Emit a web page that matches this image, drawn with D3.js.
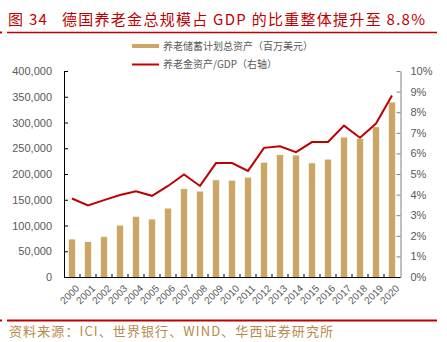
<!DOCTYPE html>
<html>
<head>
<meta charset="utf-8">
<script src="https://cdn.jsdelivr.net/npm/d3@7"></script>
<style>
  body { margin: 0; background: #fff; }
  text { font-family: "Liberation Sans", Arial, sans-serif; }
  .cjk { font-family: "Noto Sans CJK SC", sans-serif; }
</style>
</head>
<body>
<div id="chart"></div>
<script>
// data
var years = ["2000","2001","2002","2003","2004","2005","2006","2007","2008","2009","2010",
             "2011","2012","2013","2014","2015","2016","2017","2018","2019","2020"];
var assets = [73000, 68000, 78000, 100000, 117000, 112000, 133000, 171000, 166000, 188000, 187000,
              193000, 222000, 237000, 236000, 221000, 228000, 271000, 268000, 291000, 339000];
var gdpShare = [3.81, 3.47, 3.73, 3.98, 4.16, 3.94, 4.42, 4.98, 4.42, 5.53, 5.53,
                5.15, 6.27, 6.35, 6.06, 6.55, 6.55, 7.35, 6.76, 7.45, 8.81];
var leftTicks = [0, 50000, 100000, 150000, 200000, 250000, 300000, 350000, 400000];
var rightTicks = [0, 1, 2, 3, 4, 5, 6, 7, 8, 9, 10];

var W = 447, H = 342;
var red = "#c00000", tan = "#cca664", grey = "#595959";

var svg = d3.select("#chart").append("svg")
    .attr("width", W)
    .attr("height", H);

// title + rules
svg.append("text")
    .attr("class", "cjk")
    .attr("x", 8).attr("y", 25)
    .attr("fill", red)
    .attr("font-size", 15)
    .style("white-space", "pre")
    .attr("textLength", 417)
    .text("图 34   德国养老金总规模占 GDP 的比重整体提升至 8.8%");
svg.append("rect").attr("x", 0).attr("y", 31.5).attr("width", 2).attr("height", 2).attr("fill", red);
svg.append("line").attr("x1", 7).attr("x2", 437).attr("y1", 32.5).attr("y2", 32.5)
    .attr("stroke", red).attr("stroke-width", 1.5);

svg.append("rect").attr("x", 0).attr("y", 319.5).attr("width", 2).attr("height", 2).attr("fill", red);
svg.append("line").attr("x1", 7).attr("x2", 437).attr("y1", 320.5).attr("y2", 320.5)
    .attr("stroke", red).attr("stroke-width", 2);

svg.append("text")
    .attr("class", "cjk")
    .attr("x", 9).attr("y", 336)
    .attr("fill", "#b58b4c")
    .attr("font-size", 13)
    .attr("textLength", 324)
    .text("资料来源：ICI、世界银行、WIND、华西证券研究所");

// scales
var x = d3.scaleBand().domain(years).range([64, 400]).paddingInner(0.6).paddingOuter(0.3);
var y = d3.scaleLinear().domain([0, 400000]).range([277, 71]);
var y2 = d3.scaleLinear().domain([0, 10]).range([277, 71]);

// left axis
var gl = svg.append("g")
    .attr("transform", "translate(64,0)")
    .call(d3.axisLeft(y).tickValues(leftTicks).tickSize(0).tickPadding(12).tickFormat(d3.format(",")));
gl.select(".domain").attr("stroke", "#000");
gl.selectAll(".tick text").attr("fill", grey).attr("font-size", 11);
gl.selectAll(".tick").append("line").attr("x1", 0).attr("x2", 4).attr("stroke", "#000");

// right axis
var gr = svg.append("g")
    .attr("transform", "translate(400.5,0)")
    .call(d3.axisRight(y2).tickValues(rightTicks).tickSize(0).tickPadding(10).tickFormat(function(d) { return d + "%"; }));
gr.select(".domain").attr("stroke", "#808080");
gr.selectAll(".tick text").attr("fill", grey).attr("font-size", 11);
gr.selectAll(".tick").append("line").attr("x1", 0).attr("x2", -4).attr("stroke", "#808080");

// bars
svg.selectAll(".bar")
    .data(assets)
    .enter().append("rect")
    .attr("class", "bar")
    .attr("x", function(d, i) { return x(years[i]); })
    .attr("width", x.bandwidth())
    .attr("y", function(d) { return y(d); })
    .attr("height", function(d) { return y(0) - y(d); })
    .attr("fill", tan);

// bottom axis
var gb = svg.append("g")
    .attr("transform", "translate(0,277)")
    .call(d3.axisBottom(x).tickSize(0).tickPadding(0));
gb.select(".domain").attr("stroke", "#000");
gb.selectAll(".tick text")
    .attr("fill", grey)
    .attr("font-size", 10)
    .attr("text-anchor", "end")
    .attr("transform", "translate(3,7) rotate(-45)");
// small ticks between categories
svg.selectAll(".sep")
    .data(years.slice(1))
    .enter().append("line")
    .attr("class", "sep")
    .attr("x1", function(d) { return x(d) - x.step() * 0.3; })
    .attr("x2", function(d) { return x(d) - x.step() * 0.3; })
    .attr("y1", 277).attr("y2", 274)
    .attr("stroke", "#000");

// line
var line = d3.line()
    .x(function(d, i) { return x(years[i]) + x.bandwidth() / 2; })
    .y(function(d) { return y2(d); });
svg.append("path")
    .datum(gdpShare)
    .attr("d", line)
    .attr("fill", "none")
    .attr("stroke", red)
    .attr("stroke-width", 2);

// legend
svg.append("rect").attr("x", 132).attr("y", 44).attr("width", 27).attr("height", 4).attr("fill", tan);
svg.append("text").attr("class", "cjk").attr("x", 163).attr("y", 49.5)
    .attr("fill", grey).attr("font-size", 10).text("养老储蓄计划总资产（百万美元）");
svg.append("line").attr("x1", 132).attr("x2", 159).attr("y1", 64.5).attr("y2", 64.5)
    .attr("stroke", red).attr("stroke-width", 2);
svg.append("text").attr("class", "cjk").attr("x", 163).attr("y", 68)
    .attr("fill", grey).attr("font-size", 10).text("养老金资产/GDP（右轴）");
</script>
</body>
</html>
